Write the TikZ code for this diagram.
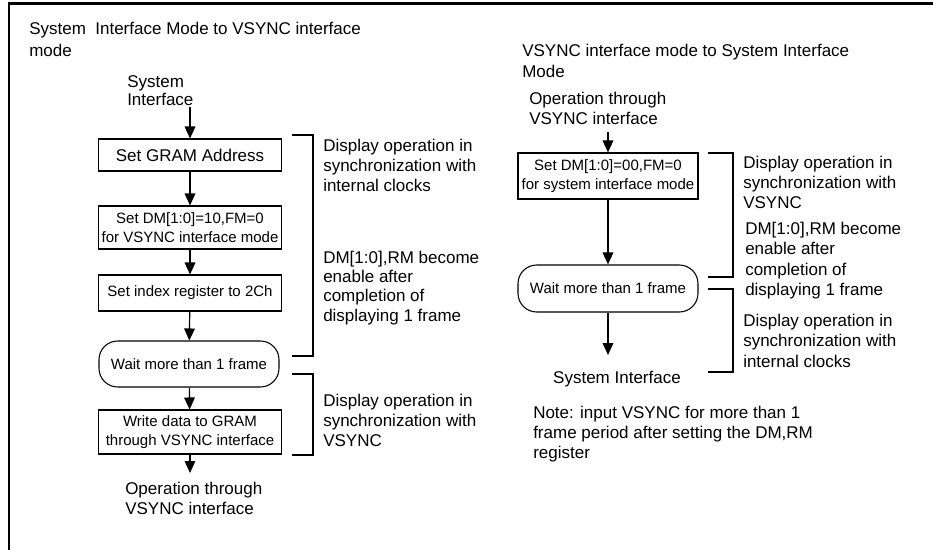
\documentclass[tikz,border=0pt]{standalone}
\usepackage{fontspec}
\setmainfont{Liberation Sans}
\usetikzlibrary{arrows.meta}
\begin{document}
\begin{tikzpicture}[x=0.75pt,y=-0.75pt,
  txt/.style={inner sep=0pt, anchor=north west, align=left, font=\fontsize{12.75pt}{15pt}\selectfont},
  proc/.style={draw, line width=0.8pt, inner sep=0pt, align=center, minimum width=137.25pt, font=\fontsize{11.25pt}{14pt}\selectfont},
  waitbox/.style={proc, rounded corners=14pt, minimum width=135pt},
  arr/.style={line width=0.9pt, -{Triangle[length=9pt,width=8pt]}},
  brk/.style={line width=1.1pt},
]
\useasboundingbox (0,0) rectangle (933,550);
% frame
\draw[line width=1.6pt] (9,560) -- (9,3.5) -- (940,3.5);

% ---------- left flow ----------
\node[txt, font=\fontsize{12.75pt}{16.5pt}\selectfont] (lt) at (29,21.7) {System\ \ Interface Mode to VSYNC interface\\mode};
\node[txt, font=\fontsize{12.75pt}{13.5pt}\selectfont] (ls) at (127,75.4) {System\\Interface};

\node[proc, minimum height=24pt, font=\fontsize{12.75pt}{15pt}\selectfont] (b1) at (190,155) {Set GRAM Address};
\node[proc, minimum height=32.25pt] (b2) at (190,227.5) {Set DM[1:0]=10,FM=0\\for VSYNC interface mode};
\node[proc, minimum height=27pt] (b3) at (190,293) {Set index register to 2Ch};
\node[waitbox, minimum height=34.5pt] (w1) at (189,364) {Wait more than 1 frame};
\node[proc, minimum height=33pt] (b4) at (190,432) {Write data to GRAM\\through VSYNC interface};
\node[txt] (le) at (125,481.7) {Operation through\\VSYNC interface};
\coordinate (lsout) at (190,107);
\coordinate (lein) at (190,473);

\draw[arr] (lsout) -- (b1.north);
\draw[arr] (b1) -- (b2);
\draw[arr] (b2) -- (b3);
\draw[arr] (b3) -- (w1);
\draw[arr] (w1) -- (b4);
\draw[arr] (b4) -- (lein);

\draw[brk] (292,135) -- (313,135) -- (313,356) -- (292,356);
\draw[brk] (292,374) -- (313,374) -- (313,455) -- (292,455);

\node[txt] (la) at (323,138.7) {Display operation in\\synchronization with\\internal clocks};
\node[txt, font=\fontsize{12.75pt}{14.5pt}\selectfont] (lb) at (323,250.7) {DM[1:0],RM become\\enable after\\completion of\\displaying 1 frame};
\node[txt] (lc) at (323,393.7) {Display operation in\\synchronization with\\VSYNC};

% ---------- right flow ----------
\node[txt, font=\fontsize{12.75pt}{15.75pt}\selectfont] (rt) at (522,43.7) {VSYNC interface mode to System Interface\\Mode};
\node[txt] (rs) at (529,91.7) {Operation through\\VSYNC interface};

\node[proc, minimum width=135pt, minimum height=34.5pt] (rb1) at (608,176) {Set DM[1:0]=00,FM=0\\for system interface mode};
\node[waitbox, minimum height=35.25pt] (rw) at (608,288.5) {Wait more than 1 frame};
\node[txt, anchor=north] (re) at (617,370.7) {System Interface};
\coordinate (rsout) at (608,132);
\coordinate (rein) at (608,355);

\draw[arr] (rsout) -- (rb1.north);
\draw[arr] (rb1) -- (rw);
\draw[arr] (rw) -- (rein);

\draw[brk] (708,153) -- (733,153) -- (733,277) -- (708,277);
\draw[brk] (708,289) -- (733,289) -- (733,372) -- (708,372);

\node[txt] (ra) at (743,155.7) {Display operation in\\synchronization with\\VSYNC};
\node[txt, font=\fontsize{12.75pt}{15.4pt}\selectfont] (rb) at (745,221.7) {DM[1:0],RM become\\enable after\\completion of\\displaying 1 frame};
\node[txt, font=\fontsize{12.75pt}{15.4pt}\selectfont] (rc) at (743,313.7) {Display operation in\\synchronization with\\internal clocks};
\node[txt] (note) at (533,405.7) {Note: input VSYNC for more than 1\\frame period after setting the DM,RM\\register};
\end{tikzpicture}
\end{document}
